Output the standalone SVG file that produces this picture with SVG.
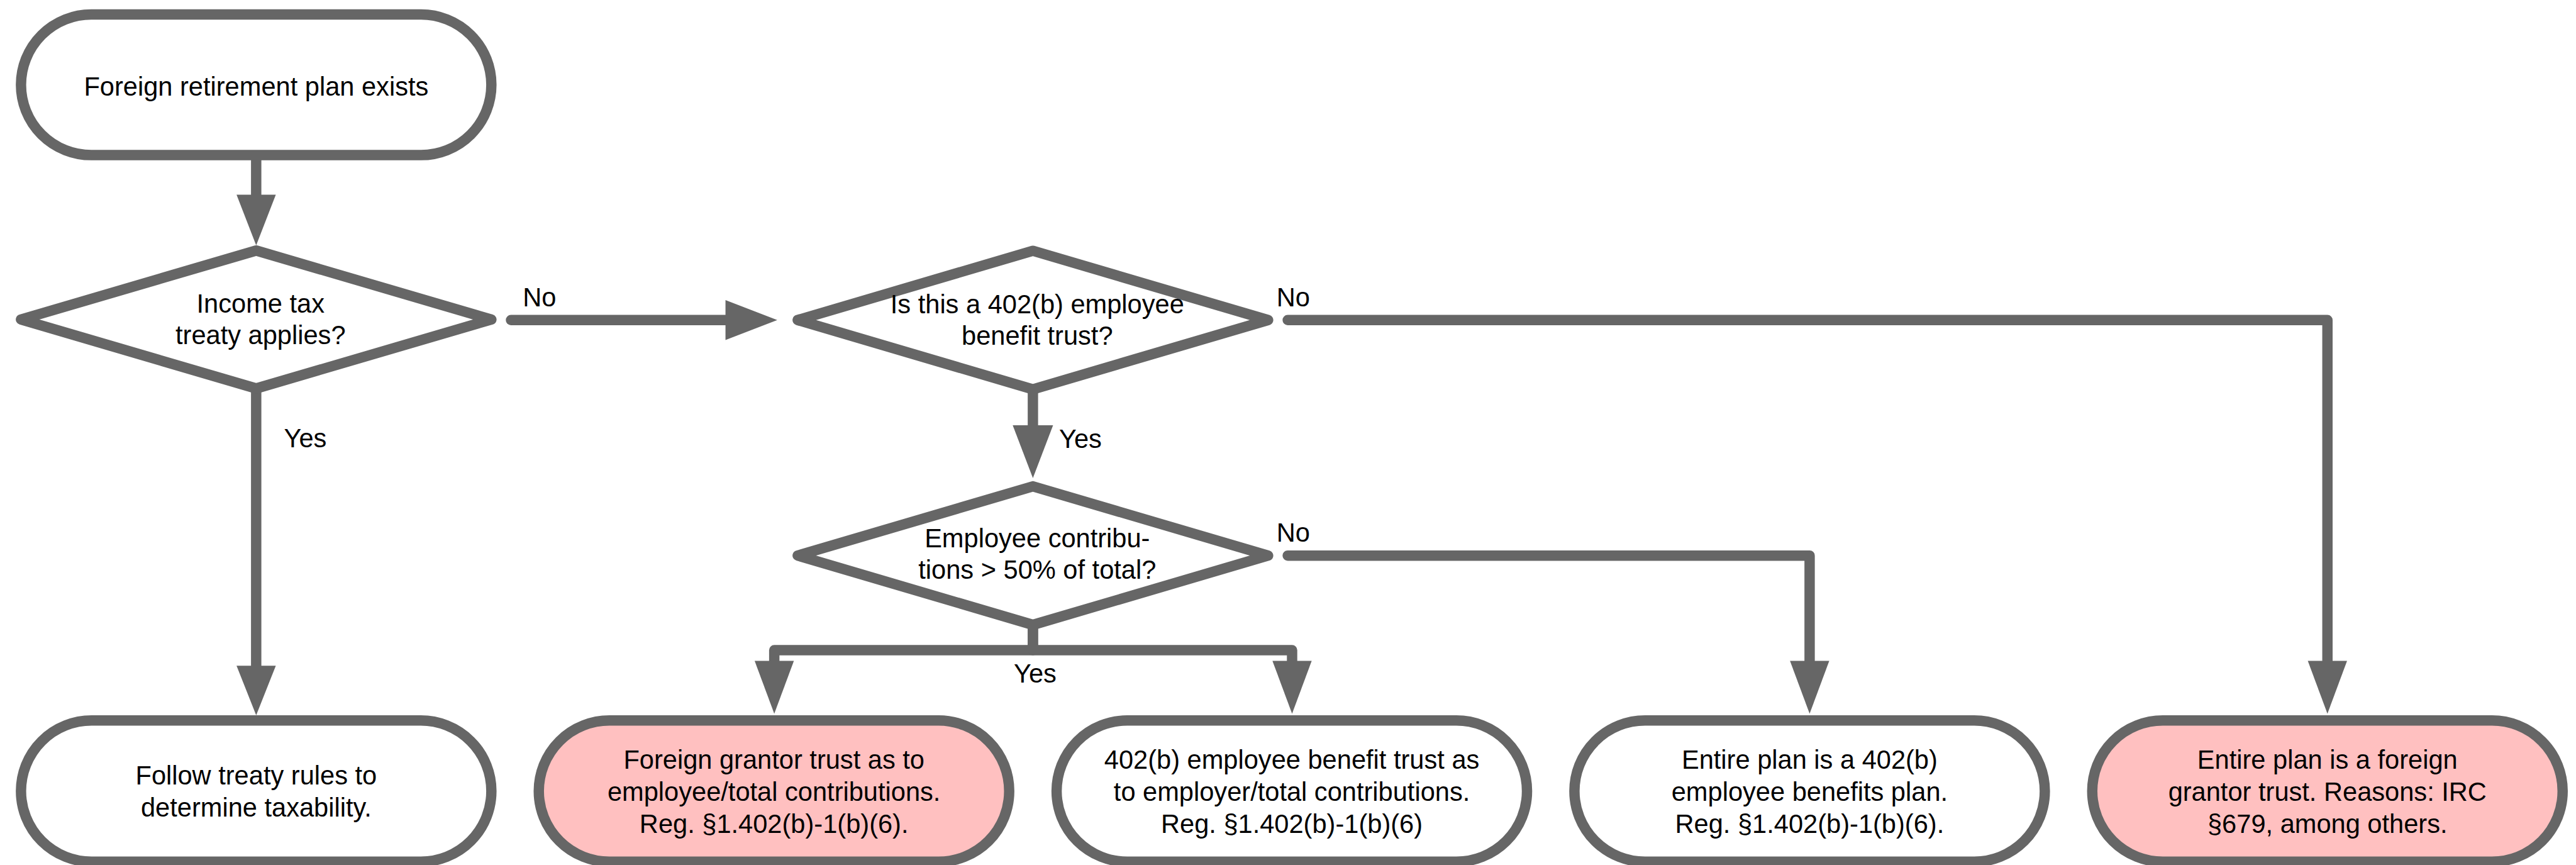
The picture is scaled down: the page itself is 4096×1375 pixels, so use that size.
<svg xmlns="http://www.w3.org/2000/svg" width="4096" height="1375" viewBox="0 0 4096 1375">
  <style>
    .shape { stroke: #666666; stroke-width: 19; stroke-linejoin: round; }
    .plain { fill: #ffffff; }
    .alert { fill: #ffc0c0; }
    .wire { fill: none; stroke: #666666; stroke-width: 19; stroke-linejoin: round; stroke-linecap: butt; }
    .wire-start { stroke-linecap: round; }
    .head { fill: #666666; stroke: none; }
    text { font-family: "Liberation Sans", Arial, Helvetica, sans-serif; font-size: 48px; fill: #000000; }
    .c { text-anchor: middle; }
  </style>
  <rect width="4096" height="1375" fill="#ffffff"/>
  <!-- drawn in a 4726 x 1586 space, scaled to the page -->
  <g transform="scale(0.86669)">
    <g id="connectors">
      <!-- start -> treaty question -->
      <path class="wire" d="M470 285 V358"/>
      <polygon class="head" points="434,357 506,357 470,450"/>
      <!-- treaty: yes -> follow treaty rules -->
      <path class="wire" d="M470 713 V1222"/>
      <polygon class="head" points="434,1221 506,1221 470,1312"/>
      <text x="521" y="820">Yes</text>
      <!-- treaty: no -> 402(b) question -->
      <path class="wire wire-start" d="M937.5 587 H1332"/>
      <polygon class="head" points="1331,550.5 1331,623.5 1426,587"/>
      <text x="959" y="562">No</text>
      <!-- 402(b): yes -> contributions question -->
      <path class="wire" d="M1895 714 V781"/>
      <polygon class="head" points="1858,780 1932,780 1895,877"/>
      <text x="1943" y="821">Yes</text>
      <!-- 402(b): no -> entire plan foreign grantor trust -->
      <path class="wire wire-start" d="M2362.5 587 H4270 V1213"/>
      <polygon class="head" points="4234,1212 4306,1212 4270,1309"/>
      <text x="2342" y="562">No</text>
      <!-- contributions: no -> entire plan 402(b) -->
      <path class="wire wire-start" d="M2362.5 1019 H3320 V1213"/>
      <polygon class="head" points="3284,1212 3356,1212 3320,1309"/>
      <text x="2342" y="994">No</text>
      <!-- contributions: yes -> split outcome -->
      <path class="wire" d="M1895 1146 V1192.5 H1420.5 V1213"/>
      <path class="wire" d="M1895 1146 V1192.5 H2370.5 V1213"/>
      <polygon class="head" points="1384.5,1212 1456.5,1212 1420.5,1309"/>
      <polygon class="head" points="2334.5,1212 2406.5,1212 2370.5,1309"/>
      <text x="1860" y="1252">Yes</text>
    </g>

    <g id="start">
      <rect class="shape plain" x="38.5" y="26.5" width="863" height="258" rx="129"/>
      <text class="c" x="470" y="175">Foreign retirement plan exists</text>
    </g>

    <g id="q-treaty">
      <polygon class="shape plain" points="38.5,586 470,459.5 901.5,586 470,712.5"/>
      <text class="c" x="478" y="573">Income tax</text>
      <text class="c" x="478" y="631">treaty applies?</text>
    </g>

    <g id="q-402b">
      <polygon class="shape plain" points="1463.5,587 1895,460 2326.5,587 1895,714"/>
      <text class="c" x="1903" y="575">Is this a 402(b) employee</text>
      <text class="c" x="1903" y="632">benefit trust?</text>
    </g>

    <g id="q-contrib">
      <polygon class="shape plain" points="1463.5,1019 1895,892 2326.5,1019 1895,1146"/>
      <text class="c" x="1903" y="1004">Employee contribu-</text>
      <text class="c" x="1903" y="1062">tions &gt; 50% of total?</text>
    </g>

    <g id="end-treaty">
      <rect class="shape plain" x="38.5" y="1321.5" width="863" height="259" rx="129.5"/>
      <text class="c" x="470" y="1439">Follow treaty rules to</text>
      <text class="c" x="470" y="1498">determine taxability.</text>
    </g>

    <g id="end-grantor-part">
      <rect class="shape alert" x="988.5" y="1321.5" width="863" height="259" rx="129.5"/>
      <text class="c" x="1420" y="1410">Foreign grantor trust as to</text>
      <text class="c" x="1420" y="1469">employee/total contributions.</text>
      <text class="c" x="1420" y="1528">Reg. §1.402(b)-1(b)(6).</text>
    </g>

    <g id="end-402b-part">
      <rect class="shape plain" x="1938.5" y="1321.5" width="863" height="259" rx="129.5"/>
      <text class="c" x="2370" y="1410">402(b) employee benefit trust as</text>
      <text class="c" x="2370" y="1469">to employer/total contributions.</text>
      <text class="c" x="2370" y="1528">Reg. §1.402(b)-1(b)(6)</text>
    </g>

    <g id="end-402b-whole">
      <rect class="shape plain" x="2888.5" y="1321.5" width="863" height="259" rx="129.5"/>
      <text class="c" x="3320" y="1410">Entire plan is a 402(b)</text>
      <text class="c" x="3320" y="1469">employee benefits plan.</text>
      <text class="c" x="3320" y="1528">Reg. §1.402(b)-1(b)(6).</text>
    </g>

    <g id="end-grantor-whole">
      <rect class="shape alert" x="3838.5" y="1321.5" width="863" height="259" rx="129.5"/>
      <text class="c" x="4270" y="1410">Entire plan is a foreign</text>
      <text class="c" x="4270" y="1469">grantor trust. Reasons: IRC</text>
      <text class="c" x="4270" y="1528">§679, among others.</text>
    </g>
  </g>
</svg>
